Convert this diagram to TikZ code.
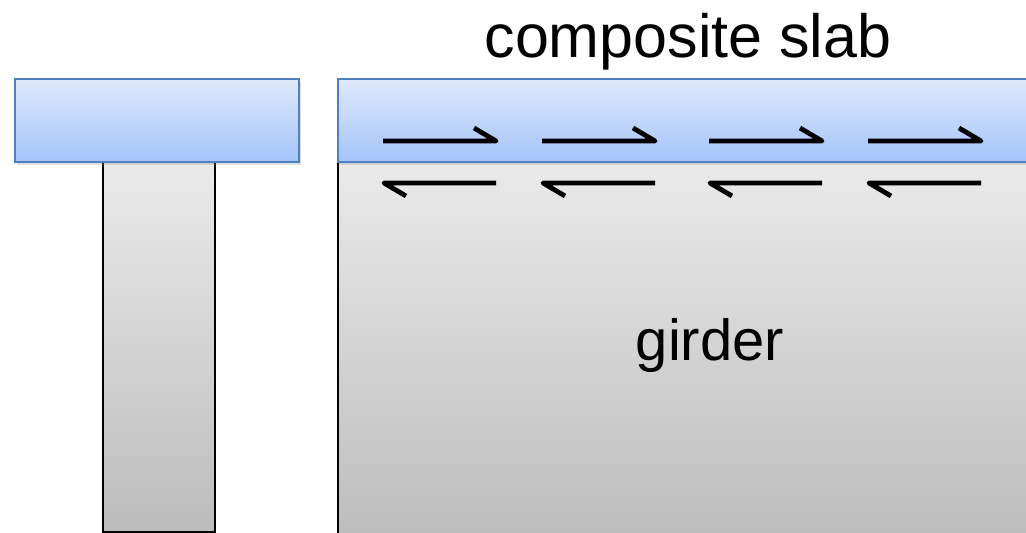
\documentclass[tikz,border=0pt]{standalone}
\usepackage{fontspec}
\setmainfont{Liberation Sans}
\usepackage{xcolor}
\usepackage{tikz}
\usetikzlibrary{shadows}
\definecolor{SlabTop}{RGB}{222, 233, 251}
\definecolor{SlabBottom}{RGB}{164, 196, 250}
\definecolor{SlabBorder}{RGB}{79, 129, 189}
\definecolor{SteelTop}{RGB}{234, 234, 234}
\definecolor{SteelBottom}{RGB}{188, 188, 188}
\tikzset{
  slab/.style={top color=SlabTop, bottom color=SlabBottom, draw=SlabBorder, line width=2pt,
    drop shadow={shadow xshift=1.5pt, shadow yshift=-3pt, opacity=0.25}},
  steel/.style={top color=SteelTop, bottom color=SteelBottom, draw=black, line width=2.2pt},
  shear/.style={line width=4.8pt, line join=round},
  caption/.style={font=\fontsize{61}{70}\selectfont, anchor=base}
}

\begin{document}
\begin{tikzpicture}[x=1pt,y=1pt]
  \path[use as bounding box] (0,0) rectangle (1026,533);
  \fill[white] (0,0) rectangle (1026,533);
  % cross section
  \path[steel] (103,1) rectangle (215,371);
  \path[slab] (15,371) rectangle (299,454);
  % elevation
  \path[steel] (338,-10) rectangle (1040,371);
  \path[slab] (338,371) rectangle (1040,454);
  \foreach \xa/\xb in {383/496, 542/655, 709/822, 868/981} {
    \draw[shear] (\xa,392) -- (\xb,392) -- (\xb-22,405);
    \draw[shear] (\xb,350) -- (\xa+1,350) -- (\xa+23,337);
  }
  \node[caption] (slabtext) at (688,475) {composite slab};
  \node[caption, font=\fontsize{58}{66}\selectfont] (girdertext) at (710,172) {girder};
\end{tikzpicture}
\end{document}
